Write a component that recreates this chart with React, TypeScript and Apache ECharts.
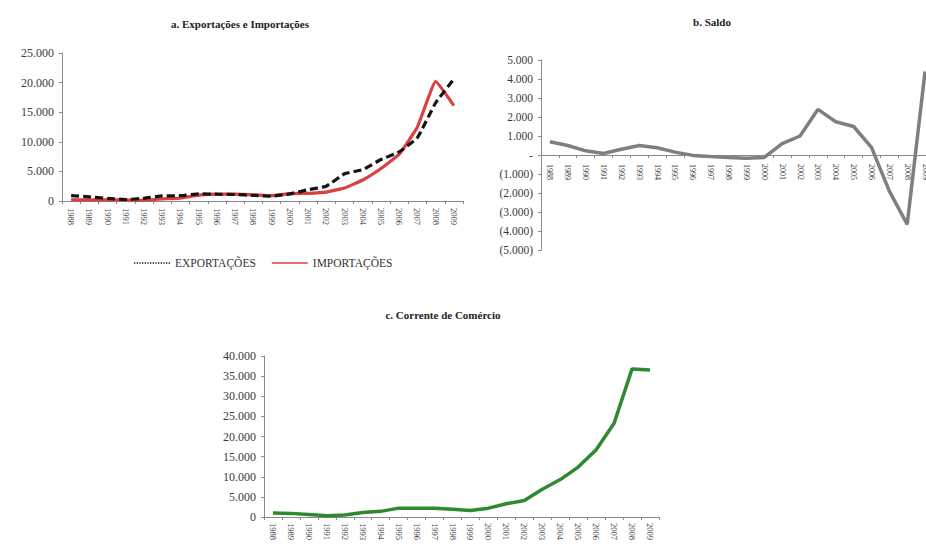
import React, { useEffect, useRef } from "react";
import * as echarts from "echarts";

const years = ["1988","1989","1990","1991","1992","1993","1994","1995","1996","1997","1998","1999","2000","2001","2002","2003","2004","2005","2006","2007","2008","2009"];
const exportacoes = [900, 700, 450, 250, 450, 850, 900, 1200, 1150, 1100, 950, 800, 1200, 1900, 2500, 4600, 5300, 7000, 8300, 10700, 16600, 20600];
const importacoes = [200, 200, 200, 150, 150, 350, 500, 1000, 1150, 1150, 1050, 900, 1250, 1300, 1500, 2200, 3550, 5500, 7900, 12500, 20200, 16100];
const saldo = [700, 500, 220, 80, 300, 500, 380, 150, -20, -80, -130, -170, -130, 600, 1000, 2400, 1750, 1500, 400, -1900, -3650, 4400];
const corrente = [1000, 900, 600, 300, 500, 1100, 1400, 2200, 2200, 2200, 1900, 1600, 2200, 3300, 4100, 6900, 9300, 12400, 16700, 23300, 36800, 36500];

const titles = ["a. Exportações e Importações", "b. Saldo", "c. Corrente de Comércio"];

const SERIF = "Liberation Serif, Times New Roman, serif";
const AXIS = "#8a8a8a";
const LABEL = "#3a3a3a";

const fmt = (v: number) => Math.abs(v).toString().replace(/\B(?=(\d{3})+(?!\d))/g, ".");

const dottedIcon = "path://" + Array.from({ length: 14 }, (_, i) => `M${i * 2},0h1v1h-1z`).join(" ");
const solidIcon = "path://M0,0h28v1h-28z";

export default function App() {
  const ref = useRef<HTMLDivElement>(null);
  useEffect(() => {
    if (!ref.current) return;
    const chart = echarts.init(ref.current, undefined, { renderer: "svg" });
    const xAxisBase = (gridIndex: number, fontSize: number, offset = 0, margin = 6) => ({
      type: "category" as const,
      gridIndex,
      data: years,
      boundaryGap: true,
      offset,
      axisLine: { onZero: false, lineStyle: { color: AXIS, width: 1 } },
      axisTick: { show: true, length: 3, lineStyle: { color: AXIS } },
      axisLabel: { interval: 0, rotate: -90, fontSize, fontFamily: SERIF, color: LABEL, margin },
    });
    const yAxisBase = (gridIndex: number, min: number, max: number, interval: number, fontSize: number, fm: (v: number) => string) => ({
      type: "value" as const,
      gridIndex,
      min,
      max,
      interval,
      splitLine: { show: false },
      axisLine: { show: true, lineStyle: { color: AXIS, width: 1 } },
      axisTick: { show: true, length: 3, lineStyle: { color: AXIS } },
      axisLabel: { fontSize, fontFamily: SERIF, color: LABEL, margin: 8, formatter: fm },
    });
    const titleStyle = (text: string) => ({
      text,
      fontFamily: SERIF,
      fontWeight: "bold",
      fontSize: 11,
      fill: "#222",
      align: "center",
      verticalAlign: "middle",
    });
    chart.setOption({
      animation: false,
      backgroundColor: "#ffffff",
      grid: [
        { left: 62, top: 53, width: 401, height: 148 },
        { left: 541, top: 60, width: 393, height: 190 },
        { left: 264, top: 356, width: 395, height: 161 },
      ],
      xAxis: [xAxisBase(0, 8.5, 0, 7), xAxisBase(1, 8, -95, 9), xAxisBase(2, 8.5, 0, 6)],
      yAxis: [
        yAxisBase(0, 0, 25000, 5000, 12, (v: number) => (v === 0 ? "0" : fmt(v))),
        yAxisBase(1, -5000, 5000, 1000, 11.5, (v: number) => (v === 0 ? "-" : v < 0 ? "(" + fmt(v) + ")" : fmt(v))),
        yAxisBase(2, 0, 40000, 5000, 12, (v: number) => (v === 0 ? "0" : fmt(v))),
      ],
      legend: {
        left: 129,
        top: 252,
        itemWidth: 36,
        itemHeight: 1.5,
        itemGap: 16,
        textStyle: { fontFamily: SERIF, fontSize: 11.5, color: "#333" },
        data: [
          { name: "EXPORTAÇÕES", icon: dottedIcon, itemStyle: { color: "#222" } },
          { name: "IMPORTAÇÕES", icon: solidIcon, itemStyle: { color: "#d9403f" } },
        ],
      },
      graphic: [
        { type: "text", x: 240, y: 24, style: titleStyle(titles[0]) },
        { type: "text", x: 712, y: 22, style: titleStyle(titles[1]) },
        { type: "text", x: 443, y: 315, style: titleStyle(titles[2]) },
      ],
      series: [
        {
          name: "EXPORTAÇÕES",
          type: "line",
          xAxisIndex: 0,
          yAxisIndex: 0,
          data: exportacoes,
          symbol: "none",
          smooth: 0.1,
          z: 3,
          lineStyle: { color: "#151515", width: 3.2, type: [8, 4] },
          itemStyle: { color: "#151515" },
        },
        {
          name: "IMPORTAÇÕES",
          type: "line",
          xAxisIndex: 0,
          yAxisIndex: 0,
          data: importacoes,
          symbol: "none",
          smooth: 0.1,
          z: 2,
          lineStyle: { color: "#d9403f", width: 3.2 },
          itemStyle: { color: "#d9403f" },
        },
        {
          name: "Saldo",
          type: "line",
          xAxisIndex: 1,
          yAxisIndex: 1,
          data: saldo,
          symbol: "none",
          smooth: false,
          lineStyle: { color: "#7f7f7f", width: 3.5 },
          itemStyle: { color: "#7f7f7f" },
        },
        {
          name: "Corrente",
          type: "line",
          xAxisIndex: 2,
          yAxisIndex: 2,
          data: corrente,
          symbol: "none",
          smooth: false,
          lineStyle: { color: "#2f8a2f", width: 3.5 },
          itemStyle: { color: "#2f8a2f" },
        },
      ],
    });
    return () => chart.dispose();
  }, []);
  return (
    <div style={{ position: "absolute", left: 0, top: 0, width: 926, height: 549, overflow: "hidden", background: "#fff" }}>
      <div ref={ref} style={{ width: 950, height: 549 }} />
    </div>
  );
}
